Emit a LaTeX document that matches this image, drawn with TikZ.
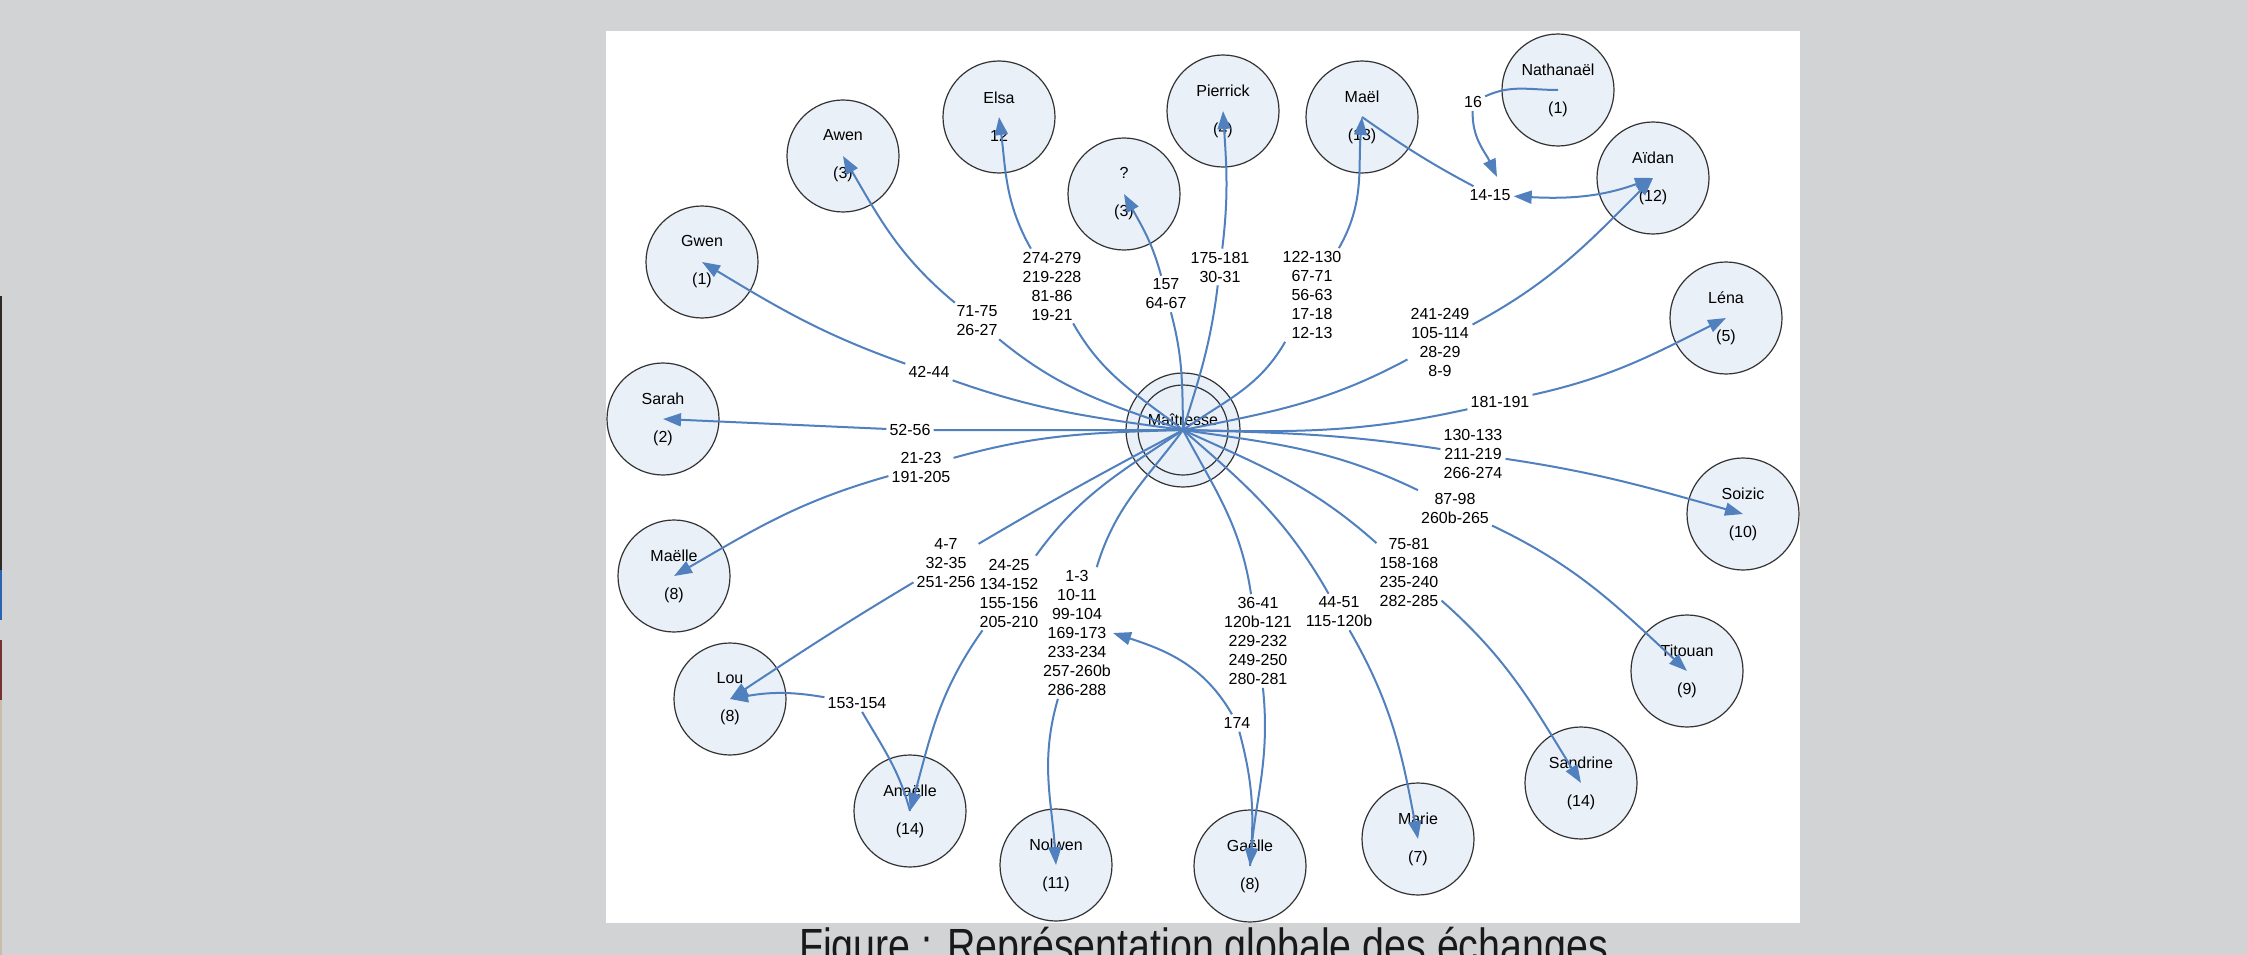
\documentclass[tikz,border=0pt]{standalone}
\usepackage{fontspec}
\usepackage{graphicx}
\setmainfont{Liberation Sans}
\usetikzlibrary{arrows.meta}
\definecolor{bg}{RGB}{209,211,213}
\definecolor{edgeblue}{RGB}{80,128,190}
\definecolor{nodefill}{RGB}{234,240,248}
\definecolor{stripdark}{RGB}{48,40,34}
\definecolor{stripblue}{RGB}{40,100,180}
\definecolor{stripred}{RGB}{120,50,45}
\definecolor{stripbeige}{RGB}{200,188,172}
\begin{document}
\begin{tikzpicture}[x=1pt,y=1pt,
  person/.style={circle,draw=black!80,line width=1.2pt,fill=nodefill,minimum size=112pt,inner sep=0pt,align=center,font=\fontsize{16}{38}\selectfont},
  lbl/.style={align=center,font=\fontsize{16}{19}\selectfont,inner sep=3pt},
  edge/.style={draw=edgeblue,line width=2pt},
  arr/.style={edge,-{Triangle[length=18pt,width=13pt]}},
  dbl/.style={edge,{Triangle[length=18pt,width=13pt]}-{Triangle[length=18pt,width=13pt]}}
]
\useasboundingbox (0,0) rectangle (2247,-955);
\clip (0,0) rectangle (2247,-955);
\fill[bg] (0,0) rectangle (2247,-955);
\fill[white] (606,-31) rectangle (1800,-923);
% left strip
\fill[stripdark] (0,-296) rectangle (2,-570);
\fill[stripblue] (0,-570) rectangle (2,-620);
\fill[stripred] (0,-640) rectangle (2,-700);
\fill[stripbeige] (0,-700) rectangle (2,-955);

% people
\node[person] (gwen) at (702,-262) {Gwen\\(1)};
\node[person] (awen) at (843,-156) {Awen\\(3)};
\node[person] (elsa) at (999,-117) {Elsa\\12};
\node[person] (q) at (1124,-194) {?\\(3)};
\node[person] (pierrick) at (1223,-111) {Pierrick\\(4)};
\node[person] (mael) at (1362,-117) {Maël\\(13)};
\node[person] (nath) at (1558,-90) {Nathanaël\\(1)};
\node[person] (aidan) at (1653,-178) {Aïdan\\(12)};
\node[person] (lena) at (1726,-318) {Léna\\(5)};
\node[person] (sarah) at (663,-419) {Sarah\\(2)};
\node[person] (soizic) at (1743,-514) {Soizic\\(10)};
\node[person] (maelle) at (674,-576) {Maëlle\\(8)};
\node[person] (titouan) at (1687,-671) {Titouan\\(9)};
\node[person] (lou) at (730,-699) {Lou\\(8)};
\node[person] (sandrine) at (1581,-783) {Sandrine\\(14)};
\node[person] (anaelle) at (910,-811) {Anaëlle\\(14)};
\node[person] (marie) at (1418,-839) {Marie\\(7)};
\node[person] (nolwen) at (1056,-865) {Nolwen\\(11)};
\node[person] (gaelle) at (1250,-866) {Gaëlle\\(8)};

% Maitresse
\node[circle,draw=black!80,line width=1.2pt,fill=nodefill,minimum size=114pt,inner sep=0pt] (M) at (1183,-430) {};
\node[circle,draw=black!80,line width=1.2pt,minimum size=90pt,inner sep=0pt] (Min) at (1183,-430) {};
\node[font=\fontsize{16}{19}\selectfont,inner sep=0pt] (Mt) at (1183,-420) {Maîtresse};

% labels
\node[lbl] (Lgwen) at (929,-372) {42-44};
\node[lbl] (Lawen) at (977,-321) {71-75\\26-27};
\node[lbl] (Lelsa) at (1052,-286) {274-279\\219-228\\81-86\\19-21};
\node[lbl] (Lq) at (1166,-294) {157\\64-67};
\node[lbl] (Lpierrick) at (1220,-267) {175-181\\30-31};
\node[lbl] (Lmael) at (1312,-295) {122-130\\67-71\\56-63\\17-18\\12-13};
\node[lbl] (Laidan) at (1440,-342) {241-249\\105-114\\28-29\\8-9};
\node[lbl] (Llena) at (1500,-402) {181-191};
\node[lbl] (Lsoizic) at (1473,-454) {130-133\\211-219\\266-274};
\node[lbl] (Ltitouan) at (1455,-508) {87-98\\260b-265};
\node[lbl] (Lsandrine) at (1409,-572) {75-81\\158-168\\235-240\\282-285};
\node[lbl] (Lmarie) at (1339,-612) {44-51\\115-120b};
\node[lbl] (Lgaelle) at (1258,-641) {36-41\\120b-121\\229-232\\249-250\\280-281};
\node[lbl] (Lnolwen) at (1077,-633) {1-3\\10-11\\99-104\\169-173\\233-234\\257-260b\\286-288};
\node[lbl] (Lanaelle) at (1009,-593) {24-25\\134-152\\155-156\\205-210};
\node[lbl] (Llou) at (946,-563) {4-7\\32-35\\251-256};
\node[lbl] (Lmaelle) at (921,-467) {21-23\\191-205};
\node[lbl] (Lsarah) at (910,-430) {52-56};
\node[lbl] (L16) at (1473,-102) {16};
\node[lbl] (L1415) at (1490,-195) {14-15};
\node[lbl] (L153) at (857,-703) {153-154};
\node[lbl] (L174) at (1237,-723) {174};

\coordinate (t16) at (1497,-177);
\coordinate (t174) at (1113,-633);

% edges from Maitresse
\draw[arr] (M.center) to[out=172.2,in=340.7] (Lgwen) to[out=160.7,in=329] (gwen.center);
\draw[arr] (M.center) to[out=160.9,in=320.6] (Lawen) to[out=140.6,in=300.3] (awen.center);
\draw[arr] (M.center) to[out=142.2,in=299.9] (Lelsa) to[out=119.9,in=277.4] (elsa.center);
\draw[arr] (M.center) to[out=90.8,in=285] (Lq) to[out=105,in=299] (q.center);
\draw[arr] (M.center) to[out=72.6,in=263] (Lpierrick) to[out=83,in=273.6] (pierrick.center);
\draw[arr] (M.center) to[out=35.1,in=240.3] (Lmael) to[out=60.3,in=265.5] (mael.center);
\draw[arr] (M.center) to[out=11.4,in=208.3] (Laidan) to[out=28.3,in=225] (aidan.center);
\draw[arr] (M.center) to[out=-1.2,in=192.7] (Llena) to[out=12.7,in=206.6] (lena.center);
\draw[arr] (M.center) -- (Lsarah) -- (sarah.center);
\draw[arr] (M.center) to[out=-1.6,in=171.4] (Lsoizic) to[out=-8.6,in=164.4] (soizic.center);
\draw[arr] (M.center) to[out=-8.3,in=154.4] (Ltitouan) to[out=-25.6,in=137.3] (titouan.center);
\draw[arr] (M.center) to[out=-24.6,in=138.5] (Lsandrine) to[out=-41.5,in=121.8] (sandrine.center);
\draw[arr] (M.center) to[out=-40.8,in=119.9] (Lmarie) to[out=-60.1,in=100.6] (marie.center);
\draw[arr] (M.center) to[out=-61.8,in=98.8] (Lgaelle) to[out=-84,in=85] (gaelle.center);
\draw[arr] (M.center) to[out=-126.6,in=73.6] (Lnolwen) to[out=-106.4,in=93.8] (nolwen.center);
\draw[arr] (M.center) to[out=-145.9,in=54.35] (Lanaelle) to[out=-125.65,in=74.6] (anaelle.center);
\draw[arr] (M.center) to[out=-151.9,in=30.75] (Llou) to[out=-149.25,in=33.4] (lou.center);
\draw[arr] (M.center) to[out=181.7,in=15.9] (Lmaelle) to[out=195.9,in=30.1] (maelle.center);

% other exchanges
\draw[arr] (nath.center) to[out=180,in=25] (L16) to[out=-92,in=115] (t16);
\draw[dbl] (mael.center) to[out=-35,in=152] (L1415) to[out=-3,in=200] (aidan.center);
\draw[arr] (anaelle.center) to[out=105,in=-60] (L153) to[out=170,in=10] (lou.center);
\draw[arr] (gaelle.center) to[out=85,in=-75] (L174) to[out=120,in=-18] (t174);

% caption
\node[anchor=base,inner sep=0pt,text=black!90] (cap) at (1203.5,-962) {\scalebox{0.82}[1]{\fontsize{48}{48}\selectfont Figure : Représentation globale des échanges}};
\end{tikzpicture}
\end{document}
